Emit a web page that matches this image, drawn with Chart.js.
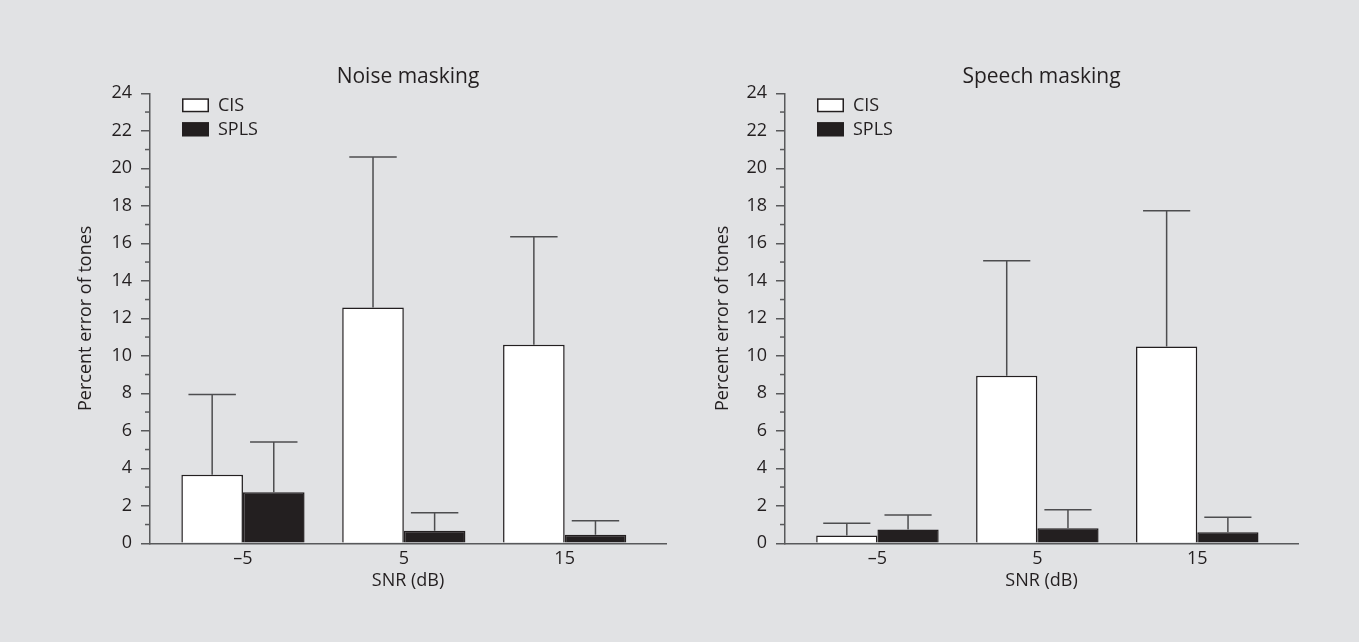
<!DOCTYPE html>
<html>
<head>
<meta charset="utf-8">
<script src="https://cdn.jsdelivr.net/npm/chart.js@4.4.1/dist/chart.umd.min.js"></script>
<style>
    html, body { margin: 0; padding: 0; background: #e1e2e4; }
    body { width: 1359px; height: 642px; position: relative; overflow: hidden; }
    .panel { position: absolute; top: 0; height: 642px; }
    #left-panel { left: 0; width: 679px; }
    #right-panel { left: 679px; width: 680px; }
</style>
</head>
<body>
<div class="panel" id="left-panel"><canvas id="noiseChart"></canvas></div>
<div class="panel" id="right-panel"><canvas id="speechChart"></canvas></div>
<script>
// --- DATA ---
const snrLevels = [-5, 5, 15];
const seriesNames = ['CIS', 'SPLS'];
const yTicks = [0, 24, 2];

// noise masking (mean and SD, percent)
const noiseCisMean = [3.65, 12.57, 10.59];
const noiseCisSd = [4.28, 8.03, 5.76];
const noiseSplsMean = [2.72, 0.67, 0.46];
const noiseSplsSd = [2.68, 0.96, 0.74];

// speech masking
const speechCisMean = [0.41, 8.94, 10.49];
const speechCisSd = [0.66, 6.13, 7.25];
const speechSplsMean = [0.73, 0.80, 0.59];
const speechSplsSd = [0.78, 0.99, 0.80];

// --- STYLE ---
const ink = '#231f20';
const axisColor = '#58595b';
const errColor = '#4d4d4f';
const fontFamily = '"Open Sans", "Noto Sans", sans-serif';
Chart.defaults.font.family = fontFamily;
Chart.defaults.font.size = 18;
Chart.defaults.color = ink;

// upper error bars, drawn from the bar tops through the y scale
const errorBarPlugin = {
    id: 'errorBars',
    afterDatasetsDraw(chart) {
        const ctx = chart.ctx;
        const yScale = chart.scales.y;
        ctx.save();
        ctx.strokeStyle = errColor;
        ctx.lineWidth = 1.5;
        chart.data.datasets.forEach((ds, di) => {
            const meta = chart.getDatasetMeta(di);
            meta.data.forEach((bar, i) => {
                const top = yScale.getPixelForValue(ds.data[i].y + ds.sd[i]);
                const half = bar.width * 0.385;
                ctx.beginPath();
                ctx.moveTo(bar.x, bar.y);
                ctx.lineTo(bar.x, top);
                ctx.moveTo(bar.x - half, top);
                ctx.lineTo(bar.x + half, top);
                ctx.stroke();
            });
        });
        ctx.restore();
    }
};

// short minor ticks on the odd values of the y axis
const minorTickPlugin = {
    id: 'minorTicks',
    afterDraw(chart) {
        const ctx = chart.ctx;
        const yScale = chart.scales.y;
        const x = chart.chartArea.left;
        ctx.save();
        ctx.strokeStyle = axisColor;
        ctx.lineWidth = 1.5;
        for (let v = yTicks[0] + 1; v < yTicks[1]; v += yTicks[2]) {
            const y = yScale.getPixelForValue(v);
            ctx.beginPath();
            ctx.moveTo(x - 5, y);
            ctx.lineTo(x, y);
            ctx.stroke();
        }
        ctx.restore();
    }
};

// legend boxes in the top-left corner of the plot area
const insideLegendPlugin = {
    id: 'insideLegend',
    afterDraw(chart) {
        const ctx = chart.ctx;
        const x0 = chart.chartArea.left + 32;
        let y0 = chart.chartArea.top + 5;
        ctx.save();
        ctx.font = '18px ' + fontFamily;
        ctx.textBaseline = 'middle';
        chart.data.datasets.forEach(ds => {
            ctx.fillStyle = ds.backgroundColor;
            ctx.fillRect(x0, y0, 27, 14);
            ctx.strokeStyle = ink;
            ctx.lineWidth = 1.5;
            ctx.strokeRect(x0 + 0.75, y0 + 0.75, 25.5, 12.5);
            ctx.fillStyle = ink;
            ctx.fillText(ds.label, x0 + 36, y0 + 7.5);
            y0 += 24;
        });
        ctx.restore();
    }
};

function makeDataset(label, fill, means, sds) {
    return {
        label: label,
        data: snrLevels.map((x, i) => ({ x: x, y: means[i] })),
        sd: sds,
        backgroundColor: fill,
        borderColor: ink,
        borderWidth: 1.5,
        borderSkipped: 'bottom',
        categoryPercentage: 0.766,
        barPercentage: 1.0
    };
}

function makeChart(canvasId, title, cisMean, cisSd, splsMean, splsSd, pad) {
    return new Chart(document.getElementById(canvasId), {
        type: 'bar',
        data: {
            datasets: [
                makeDataset(seriesNames[0], '#ffffff', cisMean, cisSd),
                makeDataset(seriesNames[1], ink, splsMean, splsSd)
            ]
        },
        options: {
            responsive: true,
            maintainAspectRatio: false,
            animation: false,
            layout: { padding: { left: pad.left, right: pad.right, top: 60, bottom: 48.7 } },
            plugins: {
                legend: { display: false },
                tooltip: { enabled: false },
                title: {
                    display: true,
                    text: title,
                    fullSize: false,
                    color: ink,
                    font: { size: 21, weight: 'normal' },
                    padding: { top: 4.4, bottom: 3.7 }
                }
            },
            scales: {
                x: {
                    type: 'linear',
                    min: -10.78,
                    max: 21.3,
                    offset: false,
                    afterBuildTicks: s => { s.ticks = snrLevels.map(v => ({ value: v })); },
                    afterFit: s => { s.height = 50; },
                    grid: { display: false, drawTicks: false },
                    border: { display: true, color: axisColor, width: 1.5 },
                    ticks: {
                        padding: 5,
                        color: ink,
                        callback: v => v < 0 ? '\u2013' + Math.abs(v) : String(v)
                    },
                    title: { display: true, text: 'SNR (dB)', color: ink, padding: { top: 0, bottom: 1.5 } }
                },
                y: {
                    min: yTicks[0],
                    max: yTicks[1],
                    afterFit: s => { s.width = pad.axis; },
                    grid: { drawOnChartArea: false, drawTicks: true, tickLength: 9, color: axisColor, lineWidth: 1.5 },
                    border: { display: true, color: axisColor, width: 1.5 },
                    ticks: { stepSize: yTicks[2], padding: 9, color: ink },
                    title: { display: true, text: 'Percent error of tones', color: ink, padding: { top: 4, bottom: 4 } }
                }
            }
        },
        plugins: [errorBarPlugin, minorTickPlugin, insideLegendPlugin]
    });
}

makeChart('noiseChart', 'Noise masking', noiseCisMean, noiseCisSd, noiseSplsMean, noiseSplsSd,
    { left: 71, right: 13, axis: 79 });
makeChart('speechChart', 'Speech masking', speechCisMean, speechCisSd, speechSplsMean, speechSplsSd,
    { left: 29, right: 61, axis: 77 });
</script>
</body>
</html>
